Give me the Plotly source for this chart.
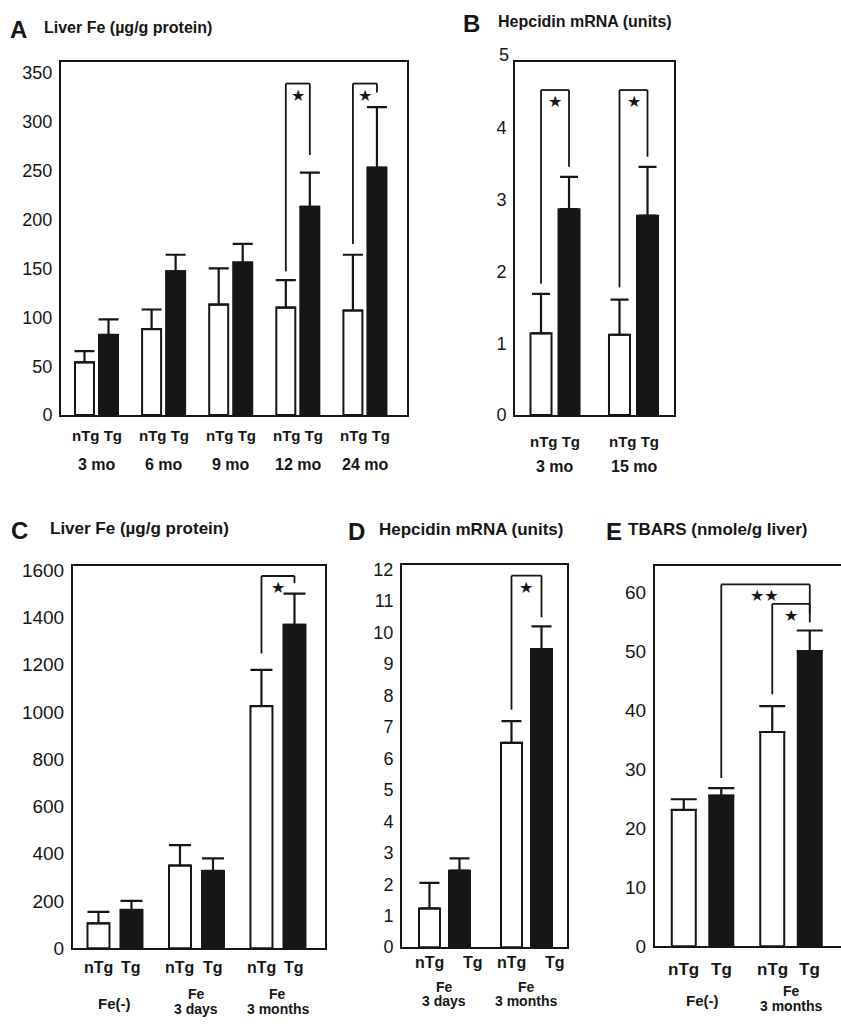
import plotly.graph_objects as go

W, H = 841, 1028
INK = "#161616"
FONT = "Liberation Sans"

# ---------------- data ----------------
# Panel A: Liver Fe (ug/g protein) by age
a_groups = ["3 mo", "6 mo", "9 mo", "12 mo", "24 mo"]
a_ntg = [54, 88, 113, 110, 107]
a_ntg_err = [11.5, 20, 37, 28, 57]
a_tg = [82, 147, 156, 213, 253]
a_tg_err = [16, 17, 19, 35, 62]

# Panel B: Hepcidin mRNA (units)
b_groups = ["3 mo", "15 mo"]
b_ntg = [1.14, 1.12]
b_ntg_err = [0.55, 0.49]
b_tg = [2.87, 2.78]
b_tg_err = [0.45, 0.68]

# Panel C: Liver Fe (ug/g protein), iron loading
c_groups = ["Fe(-)", "Fe<br>3 days", "Fe<br>3 months"]
c_ntg = [105, 350, 1025]
c_ntg_err = [49, 86, 153]
c_tg = [162, 327, 1369]
c_tg_err = [38, 53, 132]

# Panel D: Hepcidin mRNA (units), iron loading
d_groups = ["Fe<br>3 days", "Fe<br>3 months"]
d_ntg = [1.23, 6.49]
d_ntg_err = [0.81, 0.69]
d_tg = [2.43, 9.47]
d_tg_err = [0.39, 0.72]

# Panel E: TBARS (nmole/g liver)
e_groups = ["Fe(-)", "Fe<br>3 months"]
e_ntg = [23.1, 36.3]
e_ntg_err = [1.8, 4.4]
e_tg = [25.5, 50.0]
e_tg_err = [1.3, 3.5]

# significance brackets: (group_left, bar_left, group_right, bar_right, top, left_end, right_end, label)
a_sig = [(3, 0, 3, 1, 339, 147, 266, "★"), (4, 0, 4, 1, 339, 175, 330, "★")]
b_sig = [(0, 0, 0, 1, 4.53, 1.83, 3.46, "★"), (1, 0, 1, 1, 4.53, 1.78, 3.60, "★")]
c_sig = [(2, 0, 2, 1, 1576, 1248, 1545, "★")]
d_sig = [(1, 0, 1, 1, 11.8, 7.54, 10.48, "★")]
e_sig = [(0, 1, 1, 1, 61.3, 28.5, 54.9, "★★"), (1, 0, 1, 1, 58.0, 42.7, 56.5, "★")]


def fx(px):
    return px / W


def fy(px):
    return 1 - px / H


# panel geometry (pixels) and styling
panels = [
    dict(key="", groups=a_groups, ntg=a_ntg, ntg_err=a_ntg_err, tg=a_tg, tg_err=a_tg_err, sig=a_sig,
         box=(61, 407, 57, 416), xr=(-0.529, 4.627), yr=(0, 361), tickvals=list(range(0, 351, 50)),
         bw=0.283, sep=0.358, cap=10, tfs=18, style="pair", lab_y=(437, 466), lab_fs=15, mirror_y=True,
         tg_shift=0, letter="A", letter_x=8, title="Liver Fe (µg/g protein)", title_x=42, title_y=22, title_fs=16),
    dict(key="2", groups=b_groups, ntg=b_ntg, ntg_err=b_ntg_err, tg=b_tg, tg_err=b_tg_err, sig=b_sig,
         box=(515, 674, 57, 416), xr=(-0.51, 1.516), yr=(0, 4.92), tickvals=[0, 1, 2, 3, 4],
         bw=0.268, sep=0.357, cap=9, tfs=18, style="pair", lab_y=(443, 468), lab_fs=15, mirror_y=True,
         tg_shift=0, letter="B", letter_x=461, title="Hepcidin mRNA (units)", title_x=496, title_y=16, title_fs=16),
    dict(key="3", groups=c_groups, ntg=c_ntg, ntg_err=c_ntg_err, tg=c_tg, tg_err=c_tg_err, sig=c_sig,
         box=(73, 325, 569, 958), xr=(-0.515, 2.577), yr=(0, 1620), tickvals=list(range(0, 1601, 200)),
         bw=0.27, sep=0.405, cap=11, tfs=19, style="split", lab_y=(978, 1005, 1020), lab_fs=16, mirror_y=True,
         tg_shift=0, letter="C", letter_x=9, title="Liver Fe (µg/g protein)", title_x=48, title_y=531, title_fs=17),
    dict(key="4", groups=d_groups, ntg=d_ntg, ntg_err=d_ntg_err, tg=d_tg, tg_err=d_tg_err, sig=d_sig,
         box=(402, 567, 568, 957), xr=(-0.518, 1.494), yr=(0, 12.15), tickvals=list(range(0, 13)),
         bw=0.256, sep=0.366, cap=10, tfs=18, style="split", lab_y=(973, 997, 1012), lab_fs=16, mirror_y=True,
         tg_shift=0.17, letter="D", letter_x=346, title="Hepcidin mRNA (units)", title_x=377, title_y=532, title_fs=17),
    dict(key="5", groups=e_groups, ntg=e_ntg, ntg_err=e_ntg_err, tg=e_tg, tg_err=e_tg_err, sig=e_sig,
         box=(655, 841, 569, 956), xr=(-0.537, 1.565), yr=(0, 64.5), tickvals=list(range(0, 61, 10)),
         bw=0.271, sep=0.424, cap=13, tfs=19, style="split", lab_y=(980, 1002, 1017), lab_fs=17, mirror_y=False,
         tg_shift=0, letter="E", letter_x=604, title="TBARS (nmole/g liver)", title_x=626, title_y=532, title_fs=17),
]

fig = go.Figure()
layout = dict(width=W, height=H, margin=dict(l=0, r=0, t=0, b=0), showlegend=False,
              paper_bgcolor="white", plot_bgcolor="white", barmode="overlay",
              font=dict(family=FONT, color=INK))
shapes = []
annotations = []

for p in panels:
    k = p["key"]
    xa, ya = "x" + k, "y" + k
    x0, x1, ytop, ybot = p["box"]
    n = len(p["groups"])
    bw, sep = p["bw"], p["sep"]
    offs = [-sep / 2 - bw / 2, sep / 2 - bw / 2]
    centers = [-sep / 2, sep / 2]
    for j, (vals, errs, fill) in enumerate([(p["ntg"], p["ntg_err"], "white"), (p["tg"], p["tg_err"], INK)]):
        fig.add_trace(go.Bar(
            x=p["groups"], y=vals, xaxis=xa, yaxis=ya, width=bw, offset=offs[j],
            marker=dict(color=fill, line=dict(color=INK, width=2)),
            error_y=dict(type="data", array=errs, arrayminus=[0] * n, symmetric=False,
                         color=INK, thickness=2.2, width=p["cap"]),
            hoverinfo="skip"))
    layout["xaxis" + k] = dict(domain=[fx(x0), fx(x1)], anchor=ya, type="category",
                               categoryorder="array", categoryarray=p["groups"],
                               range=list(p["xr"]), showticklabels=False, ticks="",
                               showline=True, mirror=True, linecolor=INK, linewidth=2,
                               showgrid=False, zeroline=False, fixedrange=True)
    layout["yaxis" + k] = dict(domain=[fy(ybot), fy(ytop)], anchor=xa, range=list(p["yr"]),
                               tickvals=p["tickvals"], ticks="", showline=True, mirror=p["mirror_y"],
                               linecolor=INK, linewidth=2, showgrid=False, zeroline=False,
                               tickfont=dict(family=FONT, size=p["tfs"], color=INK),
                               ticklabelstandoff=3, fixedrange=True)

    # x labels
    if p["style"] == "pair":
        for i, g in enumerate(p["groups"]):
            annotations.append(dict(xref=xa, yref="paper", x=i, y=fy(p["lab_y"][0]), text="<b>nTg Tg</b>",
                                    showarrow=False, xanchor="center", yanchor="middle",
                                    font=dict(size=p["lab_fs"], family=FONT, color=INK)))
            annotations.append(dict(xref=xa, yref="paper", x=i, y=fy(p["lab_y"][1]), text="<b>%s</b>" % g,
                                    showarrow=False, xanchor="center", yanchor="middle",
                                    font=dict(size=p["lab_fs"] + 1, family=FONT, color=INK)))
    else:
        for i, g in enumerate(p["groups"]):
            for j, lab in enumerate(["nTg", "Tg"]):
                lx = i + centers[j] + (p["tg_shift"] if j == 1 else 0)
                annotations.append(dict(xref=xa, yref="paper", x=lx, y=fy(p["lab_y"][0]),
                                        text="<b>%s</b>" % lab, showarrow=False, xanchor="center",
                                        yanchor="middle", font=dict(size=p["lab_fs"], family=FONT, color=INK)))
            parts = g.split("<br>")
            if len(parts) == 1:
                annotations.append(dict(xref=xa, yref="paper", x=i, y=fy((p["lab_y"][1] + p["lab_y"][2]) / 2 + 2),
                                        text="<b>%s</b>" % parts[0], showarrow=False, xanchor="center",
                                        yanchor="middle", font=dict(size=15, family=FONT, color=INK)))
            else:
                for line, yy in zip(parts, p["lab_y"][1:]):
                    annotations.append(dict(xref=xa, yref="paper", x=i, y=fy(yy),
                                            text="<b>%s</b>" % line, showarrow=False, xanchor="center",
                                            yanchor="middle", borderpad=0,
                                            font=dict(size=14, family=FONT, color=INK)))

    # significance brackets
    for (gl, bl, gr, br, top, le, re, lab) in p["sig"]:
        xl = gl + centers[bl]
        xr_ = gr + centers[br]
        for (sx0, sy0, sx1, sy1) in [(xl, le, xl, top), (xl, top, xr_, top), (xr_, top, xr_, re)]:
            shapes.append(dict(type="line", xref=xa, yref=ya, x0=sx0, y0=sy0, x1=sx1, y1=sy1,
                               line=dict(color=INK, width=1.8)))
        if lab == "★★":
            sx = gr + centers[0] - 0.09
        else:
            sx = (xl + xr_) / 2
        annotations.append(dict(xref=xa, yref=ya, x=sx, y=top, text=lab, showarrow=False,
                                xanchor="center", yanchor="top", yshift=0,
                                font=dict(size=16, family="DejaVu Sans", color=INK)))

    # panel letter and title
    annotations.append(dict(xref="paper", yref="paper", x=fx(p["letter_x"]), y=fy(p["title_y"] + 2),
                            text="<b>%s</b>" % p["letter"], showarrow=False, xanchor="left", yanchor="middle",
                            font=dict(size=24, family=FONT, color=INK)))
    annotations.append(dict(xref="paper", yref="paper", x=fx(p["title_x"]), y=fy(p["title_y"]),
                            text="<b>%s</b>" % p["title"], showarrow=False, xanchor="left", yanchor="middle",
                            font=dict(size=p["title_fs"], family=FONT, color=INK)))

# the "5" label of panel B sits just above its frame
annotations.append(dict(xref="paper", yref="paper", x=fx(511), y=fy(50), text="5", showarrow=False,
                        xanchor="right", yanchor="middle", font=dict(size=18, family=FONT, color=INK)))

layout["shapes"] = shapes
layout["annotations"] = annotations
fig.update_layout(**layout)
fig.write_html("out.html", config={"displayModeBar": False},
               post_script="document.body.style.margin='0';document.body.style.overflow='hidden';")
